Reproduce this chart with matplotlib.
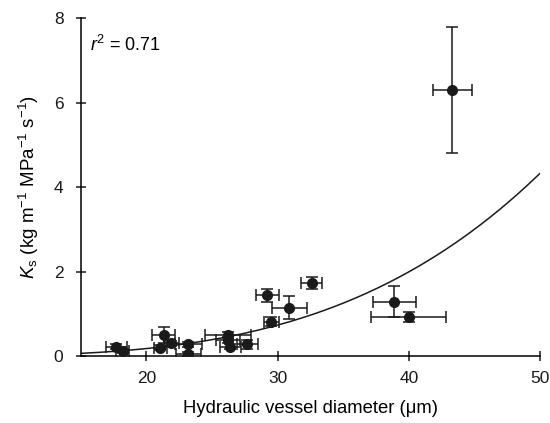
import matplotlib
matplotlib.use("Agg")
import matplotlib.pyplot as plt
import numpy as np

plt.rcParams['font.family'] = ['Liberation Sans', 'DejaVu Sans']
plt.rcParams['mathtext.fontset'] = 'custom'
plt.rcParams['mathtext.rm'] = 'Liberation Sans'
plt.rcParams['mathtext.it'] = 'Liberation Sans:italic'
plt.rcParams['mathtext.default'] = 'regular'

# Data: vessel diameter (um), Ks, errors
diam = [17.7, 18.2, 21.3, 21.05, 21.9, 23.2, 23.2, 26.2, 26.2, 26.4, 27.7,
        29.2, 29.5, 30.9, 32.6, 38.9, 40.0, 43.3]
diam_err = [0.8, 0.5, 0.85, 0.5, 0.6, 1.0, 0.95, 1.75, 0.9, 0.83, 0.83,
            0.87, 0.57, 1.3, 0.8, 1.65, 2.85, 1.5]
ks = [0.22, 0.13, 0.50, 0.20, 0.30, 0.28, 0.06, 0.50, 0.38, 0.22, 0.28,
      1.44, 0.82, 1.15, 1.73, 1.29, 0.93, 6.30]
ks_err = [0.06, 0.05, 0.2, 0.06, 0.06, 0.06, 0.05, 0.08, 0.08, 0.06, 0.1,
          0.15, 0.11, 0.28, 0.14, 0.37, 0.12, 1.5]

# Power-law fit Ks = a * (d/50)^b
fit_a = 4.33
fit_b = 3.47

fig = plt.figure(figsize=(5.5, 4.23), dpi=100)
ax = fig.add_axes([0.147, 0.158, 0.835, 0.799])

xf = np.linspace(15, 50, 300)
ax.plot(xf, fit_a * (xf / 50.0) ** fit_b, color='#1a1a1a', lw=1.1, zorder=2)

ax.errorbar(diam, ks, xerr=diam_err, yerr=ks_err, fmt='o', color='#1a1a1a',
            ecolor='#1a1a1a', elinewidth=1.1, capsize=4, capthick=1.1,
            markersize=7, zorder=3)

ax.set_xlim(15, 50)
ax.set_ylim(0, 8)
ax.set_xticks([20, 30, 40, 50])
ax.set_yticks([0, 2, 4, 6, 8])
for s in ['top', 'right']:
    ax.spines[s].set_visible(False)
for s in ['left', 'bottom']:
    ax.spines[s].set_linewidth(1.1)
ax.tick_params(direction='inout', length=7, width=1.1, labelsize=12.5,
               colors='#1a1a1a')
ax.tick_params(axis='x', pad=7)
ax.tick_params(axis='y', pad=9)

ax.set_xlabel('Hydraulic vessel diameter (μm)', fontsize=13.3, labelpad=10)
ax.set_ylabel('$\\mathit{K}_{\\mathrm{s}}$ (kg m$^{-1}$ MPa$^{-1}$ s$^{-1}$)',
              fontsize=13.5, labelpad=9)
ax.text(0.02, 0.92, '$\\mathit{r}^{2}$ = 0.71', transform=ax.transAxes,
        fontsize=13, va='center', ha='left')

fig.savefig('out.png', dpi=100)
